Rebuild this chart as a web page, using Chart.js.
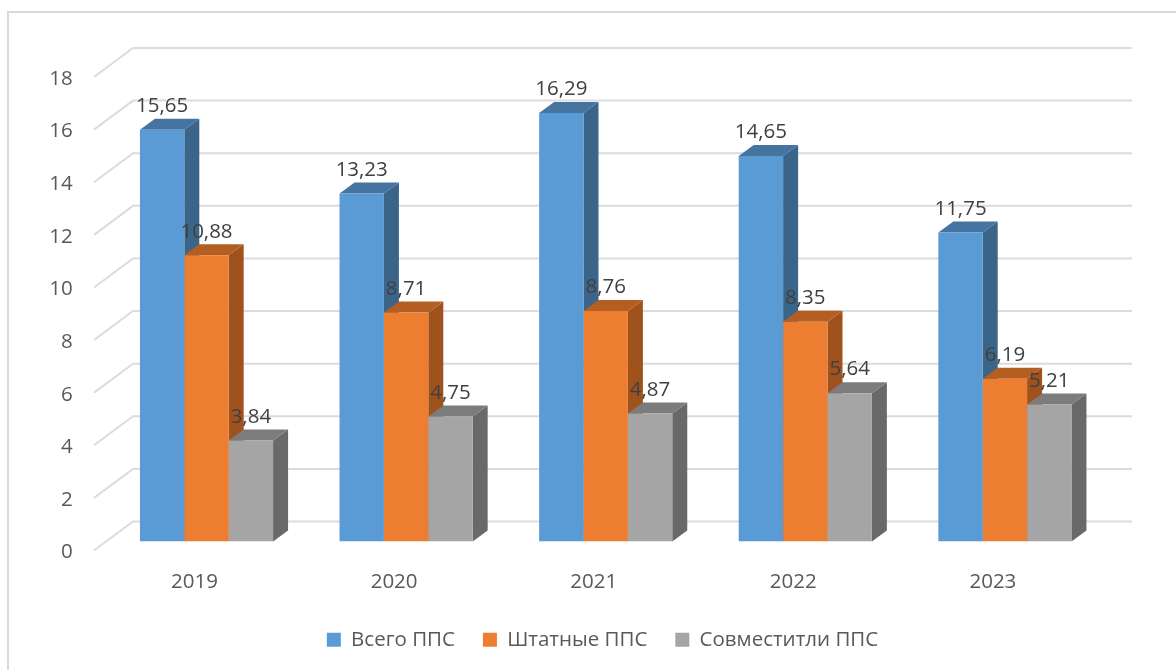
<!DOCTYPE html>
<html><head><meta charset="utf-8">
<style>html,body{margin:0;padding:0;background:#fff}canvas{display:block}</style>
<script src="https://cdn.jsdelivr.net/npm/chart.js@4/dist/chart.umd.min.js"></script>
</head><body><canvas id="c" width="1176" height="670"></canvas>
<script>
const years = ['2019','2020','2021','2022','2023'];
const total = [15.65,13.23,16.29,14.65,11.75];
const staff = [10.88,8.71,8.76,8.35,6.19];
const parttime = [3.84,4.75,4.87,5.64,5.21];
const seriesNames = ['Всего ППС','Штатные ППС','Совместитли ППС'];
const frontColors = ['#5B9BD5','#ED7D31','#A5A5A5'];
const topColors = ['#44749F','#B55E22','#7C7C7C'];
const sideColors = ['#3A6589','#A0521D','#696969'];
const FONT = '"Open Sans", sans-serif';
const DX = 15, DY = -11;

function poly(ctx, pts, color){
  ctx.fillStyle = color; ctx.beginPath();
  pts.forEach((p,i)=> i ? ctx.lineTo(p[0],p[1]) : ctx.moveTo(p[0],p[1]));
  ctx.closePath(); ctx.fill();
}
const scene = {
  id:'scene',
  beforeDraw(chart){
    const ctx = chart.ctx, y = chart.scales.y;
    ctx.save();
    ctx.fillStyle='#fff'; ctx.fillRect(0,0,chart.width,chart.height);
    ctx.strokeStyle='#D9D9D9'; ctx.lineWidth=2;
    ctx.beginPath(); ctx.moveTo(8,670); ctx.lineTo(8,12); ctx.lineTo(1176,12); ctx.stroke();
    ctx.lineWidth=2; ctx.strokeStyle='#DCDCDC';
    y.ticks.forEach(t=>{
      const p = y.getPixelForValue(t.value);
      ctx.beginPath(); ctx.moveTo(94,p+9); ctx.lineTo(133,p-20); ctx.lineTo(1132,p-20); ctx.stroke();
    });
    ctx.restore();
  },
  beforeDatasetsDraw(chart){
    const ctx = chart.ctx;
    ctx.save();
    chart.data.datasets.forEach((ds,i)=>{
      chart.getDatasetMeta(i).data.forEach(b=>{
        const l=b.x-b.width/2, r=b.x+b.width/2, t=b.y, bt=b.base;
        poly(ctx,[[r,t],[r+DX,t+DY],[r+DX,bt+DY],[r,bt]],sideColors[i]);
        poly(ctx,[[l,t],[r,t],[r+DX,t+DY],[l+DX,t+DY]],topColors[i]);
      });
    });
    ctx.restore();
  },
  afterDatasetsDraw(chart){
    const ctx = chart.ctx;
    ctx.save();
    ctx.font = '20.5px '+FONT; ctx.fillStyle='#404040';
    ctx.textAlign='center'; ctx.textBaseline='middle';
    chart.data.datasets.forEach((ds,i)=>{
      chart.getDatasetMeta(i).data.forEach((b,j)=>{
        ctx.fillText(ds.data[j].toFixed(2).replace('.',','), b.x, b.y-23.5);
      });
    });
    ctx.restore();
  }
};
new Chart(document.getElementById('c'),{
  type:'bar',
  data:{labels:years,datasets:[
    {label:seriesNames[0],data:total,backgroundColor:frontColors[0]},
    {label:seriesNames[1],data:staff,backgroundColor:frontColors[1]},
    {label:seriesNames[2],data:parttime,backgroundColor:frontColors[2]}
  ]},
  options:{
    responsive:false,animation:false,
    devicePixelRatio:1,
    layout:{padding:{top:68,right:0,left:29,bottom:10}},
    datasets:{bar:{categoryPercentage:0.667,barPercentage:1}},
    plugins:{
      tooltip:{enabled:false},
      legend:{position:'bottom',labels:{font:{family:FONT,size:20.5},color:'#595959',boxWidth:14,boxHeight:14,padding:28}}
    },
    scales:{
      x:{grid:{display:false,drawTicks:false},border:{display:false},
         ticks:{color:'#595959',font:{family:FONT,size:20.5},padding:28.5,maxRotation:0,labelOffset:-12},
         afterFit(s){s.height=60;}},
      y:{min:0,max:18,grid:{display:false,drawTicks:false},border:{display:false},
         ticks:{stepSize:2,color:'#595959',font:{family:FONT,size:20.5},padding:34,labelOffset:11},
         afterFit(s){s.width=77.7;}},
      spacer:{position:'right',min:0,max:18,grid:{display:false,drawTicks:false},border:{display:false},
         ticks:{display:false},afterFit(s){s.width=71.3;}}
    }
  },
  plugins:[scene]
});
</script></body></html>
